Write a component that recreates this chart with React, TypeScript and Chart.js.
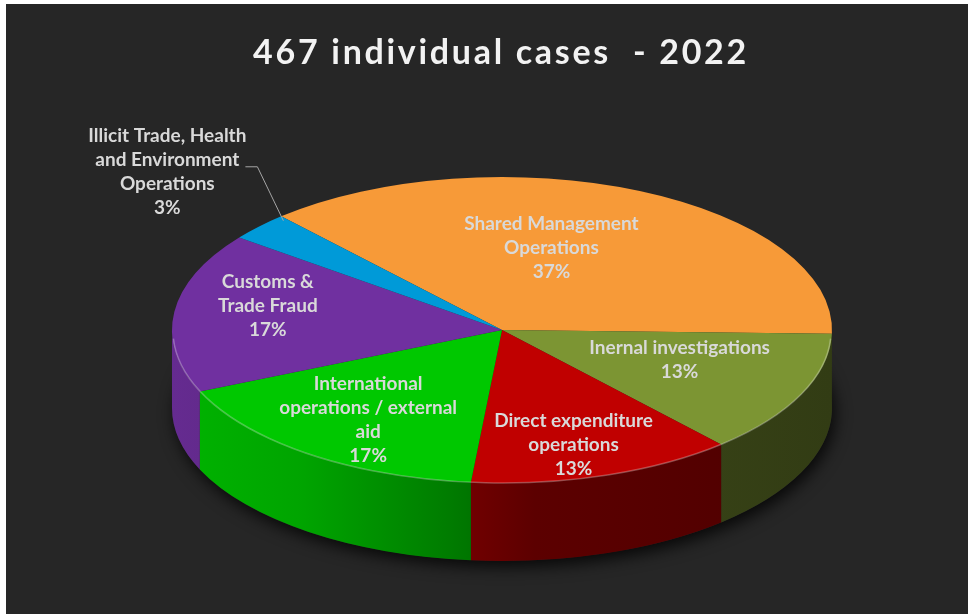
import React, { useEffect, useRef } from "react";
import { Chart, registerables } from "chart.js";

Chart.register(...registerables);

// ---------- data ----------
const TITLE = "467 individual cases  - 2022";
const categories = [
  "Shared Management Operations",
  "Inernal investigations",
  "Direct expenditure operations",
  "International operations / external aid",
  "Customs & Trade Fraud",
  "Illicit Trade, Health and Environment Operations",
];
const caseCounts = [173, 61, 61, 79, 79, 14];
const sliceColors = ["#f79a38", "#7c9533", "#c00000", "#00c800", "#7030a0", "#009ad8"];
const labelLines = [
  ["Shared Management", "Operations"],
  ["Inernal investigations"],
  ["Direct expenditure", "operations"],
  ["International", "operations / external", "aid"],
  ["Customs &", "Trade Fraud"],
  ["Illicit Trade, Health", "and Environment", "Operations"],
];
const START_ANGLE = -42;

// ---------- geometry / style ----------
const OFFSET_X = 6;
const OFFSET_Y = 4;
const CX = 502 - OFFSET_X;
const CY = 330 - OFFSET_Y;
const RX = 330;
const RY = 153;
const DEPTH = 78;
const BG = "#262626";
const LABEL_COLOR = "#d9d9d9";
const LABEL_FONT = "bold 19px Lato";
const LINE_H = 24;
const LABEL_FRACTION = 0.62;
// per-slice label nudges (pixels) to mimic the perspective placement
const LABEL_NUDGE: [number, number][] = [
  [-36, 4],
  [-8, -10],
  [8, 25],
  [-14, 13],
  [-31, -13],
  [0, 0],
];
const WALL_STOPS: [number, number][] = [
  [0, 0.9],
  [0.2, 0.82],
  [0.42, 0.62],
  [0.55, 0.48],
  [1, 0.4],
];

function shade(hex: string, f: number): string {
  const n = parseInt(hex.slice(1), 16);
  const r = Math.round(((n >> 16) & 255) * f);
  const g = Math.round(((n >> 8) & 255) * f);
  const b = Math.round((n & 255) * f);
  return `rgb(${r},${g},${b})`;
}

const pie3d = {
  id: "pie3d",
  beforeDraw(chart: any) {
    (chart.ctx as any).letterSpacing = "2.7px";
  },
  beforeDatasetsDraw(chart: any) {
    const ctx = chart.ctx as CanvasRenderingContext2D;
    (ctx as any).letterSpacing = "0px";
    const arcs = chart.getDatasetMeta(0).data as any[];
    if (!arcs.length) return;
    const x0 = arcs[0].x;
    const y0 = arcs[0].y;
    const R0 = arcs[0].outerRadius;

    // soft shadow under the pie
    ctx.save();
    ctx.shadowColor = "rgba(0,0,0,0.8)";
    ctx.shadowBlur = 16;
    ctx.shadowOffsetX = 3;
    ctx.shadowOffsetY = 6;
    ctx.fillStyle = BG;
    ctx.beginPath();
    ctx.ellipse(CX, CY + DEPTH, RX, RY, 0, 0, Math.PI * 2);
    ctx.fill();
    ctx.restore();

    // side walls (front half only)
    arcs.forEach((arc, i) => {
      const s = arc.startAngle;
      const e = arc.endAngle;
      for (const k of [-2 * Math.PI, 0, 2 * Math.PI]) {
        const lo = Math.max(s, k);
        const hi = Math.min(e, k + Math.PI);
        if (hi <= lo) continue;
        const grad = ctx.createLinearGradient(CX - RX, 0, CX + RX, 0);
        WALL_STOPS.forEach(([t, f]) => grad.addColorStop(t, shade(sliceColors[i], f)));
        ctx.beginPath();
        ctx.ellipse(CX, CY, RX, RY, 0, lo, hi, false);
        ctx.ellipse(CX, CY + DEPTH, RX, RY, 0, hi, lo, true);
        ctx.closePath();
        ctx.fillStyle = grad;
        ctx.fill();
      }
    });

    // squash the top face drawn by Chart.js
    ctx.save();
    ctx.translate(CX, CY);
    ctx.scale(RX / R0, RY / R0);
    ctx.translate(-x0, -y0);
  },
  afterDatasetsDraw(chart: any) {
    const ctx = chart.ctx as CanvasRenderingContext2D;
    ctx.restore();
    const arcs = chart.getDatasetMeta(0).data as any[];
    if (!arcs.length) return;

    // rim highlight on the front edge
    ctx.save();
    ctx.strokeStyle = "rgba(255,255,255,0.28)";
    ctx.lineWidth = 1.5;
    ctx.beginPath();
    ctx.ellipse(CX, CY + 1, RX - 1, RY - 1, 0, 0.05, Math.PI - 0.05);
    ctx.stroke();
    ctx.restore();

    const total = caseCounts.reduce((a, b) => a + b, 0);
    ctx.save();
    ctx.font = LABEL_FONT;
    ctx.fillStyle = LABEL_COLOR;
    ctx.textAlign = "center";
    ctx.textBaseline = "middle";
    arcs.forEach((arc, i) => {
      const mid = (arc.startAngle + arc.endAngle) / 2;
      const lines = [...labelLines[i], Math.round((caseCounts[i] / total) * 100) + "%"];
      const share = caseCounts[i] / total;
      if (share < 0.05) {
        // outside label with leader line
        const px = CX + 0.9 * RX * Math.cos(mid);
        const py = CY + 0.9 * RY * Math.sin(mid) - 16;
        const ex = px - 26;
        const ey = py - 54;
        const endX = ex - 12;
        ctx.save();
        ctx.strokeStyle = "#a6a6a6";
        ctx.lineWidth = 1;
        ctx.beginPath();
        ctx.moveTo(px, py);
        ctx.lineTo(ex, ey);
        ctx.lineTo(endX, ey);
        ctx.stroke();
        ctx.restore();
        const widths = lines.map((l) => ctx.measureText(l).width);
        const w = Math.max(...widths);
        const bx = endX + 1 - w / 2;
        const by = ey + 5 - ((lines.length - 1) * LINE_H) / 2;
        lines.forEach((l, j) => ctx.fillText(l, bx, by + j * LINE_H));
      } else {
        const lx = CX + LABEL_FRACTION * RX * Math.cos(mid) + LABEL_NUDGE[i][0];
        const ly = CY + LABEL_FRACTION * RY * Math.sin(mid) + LABEL_NUDGE[i][1];
        const by = ly - ((lines.length - 1) * LINE_H) / 2;
        lines.forEach((l, j) => ctx.fillText(l, lx, by + j * LINE_H));
      }
    });
    ctx.restore();
  },
};

export default function App() {
  const canvasRef = useRef<HTMLCanvasElement | null>(null);

  useEffect(() => {
    if (!canvasRef.current) return;
    Chart.defaults.font.family = "Lato";
    const chart = new Chart(canvasRef.current, {
      type: "pie",
      data: {
        labels: categories,
        datasets: [
          {
            data: caseCounts,
            backgroundColor: sliceColors,
            borderWidth: 0,
            clip: false as any,
          },
        ],
      },
      options: {
        animation: false,
        responsive: true,
        maintainAspectRatio: false,
        rotation: START_ANGLE,
        events: [],
        layout: { padding: { left: 28 } },
        plugins: {
          legend: { display: false },
          tooltip: { enabled: false },
          title: {
            display: true,
            text: TITLE,
            color: "#f2f2f2",
            font: { family: "Lato", size: 34, weight: "bold" },
            padding: { top: 29, bottom: 10 },
          },
        },
      },
      plugins: [pie3d],
    });
    return () => chart.destroy();
  }, []);

  return (
    <div
      style={{
        position: "absolute",
        left: OFFSET_X,
        top: OFFSET_Y,
        width: 962,
        height: 610,
        background: BG,
      }}
    >
      <canvas ref={canvasRef} style={{ width: "100%", height: "100%" }} />
    </div>
  );
}
